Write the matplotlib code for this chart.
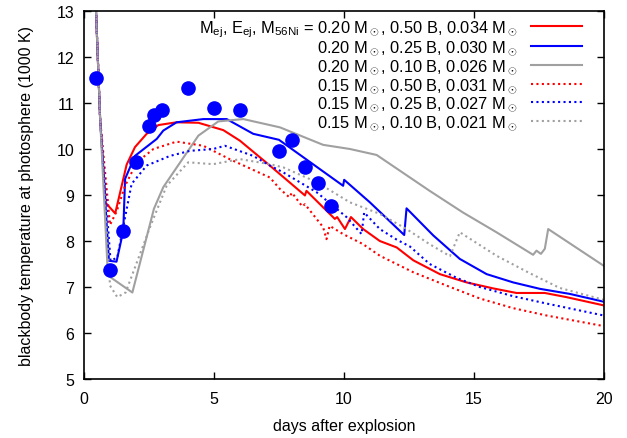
import matplotlib
matplotlib.use("Agg")
import matplotlib.pyplot as plt

plt.rcParams['font.family'] = ['Liberation Sans', 'DejaVu Sans']
plt.rcParams['mathtext.fontset'] = 'custom'
plt.rcParams['mathtext.rm'] = 'Liberation Sans'
plt.rcParams['mathtext.it'] = 'Liberation Sans:italic'

# observations
obs_t = [0.46, 1.0, 1.5, 2.0, 2.5, 2.7, 3.0, 4.0, 5.0, 6.0, 7.5, 8.0, 8.5, 9.0, 9.5]
obs_T = [11.55, 7.37, 8.22, 9.72, 10.5, 10.74, 10.85, 11.33, 10.9, 10.85, 9.95, 10.19, 9.6, 9.27, 8.75]

# models
red_t = [0.3, 0.62, 0.83, 1.2, 1.64, 1.96, 2.41, 2.86, 3.56, 4.4, 5.36, 6.0, 7.15, 8.5, 8.56, 9.65, 9.74,
         10.04, 10.27, 10.74, 11.38, 12.03, 12.67, 13.69, 14.72, 15.74, 16.64, 17.73, 18.56, 20.0]
red_T = [15.4, 10.65, 8.83, 8.6, 9.66, 10.04, 10.33, 10.52, 10.58, 10.57, 10.41, 10.18, 9.64, 8.99, 9.09, 8.48, 8.52,
         8.26, 8.52, 8.26, 8.0, 7.86, 7.58, 7.28, 7.10, 6.97, 6.87, 6.87, 6.78, 6.6]

blue_t = [0.3, 0.62, 0.96, 1.25, 1.51, 1.58, 1.96, 2.8, 3.05, 3.56, 4.59, 5.49, 6.51, 7.5, 9.97, 10.01, 11.0,
          12.32, 12.41, 13.44, 14.46, 15.49, 16.51, 17.54, 18.69, 20.0]
blue_T = [15.4, 10.65, 7.57, 7.55, 8.22, 9.35, 9.85, 10.22, 10.4, 10.58, 10.65, 10.65, 10.33, 10.2, 9.2, 9.33, 8.84,
          8.13, 8.71, 8.12, 7.61, 7.28, 7.10, 6.96, 6.85, 6.68]

gray_t = [0.3, 0.62, 0.92, 1.86, 2.69, 3.05, 4.4, 5.17, 6.13, 7.15, 7.54, 9.2, 10.23, 11.26, 13.3, 14.58, 15.87,
          17.28, 17.41, 17.58, 17.73, 17.86, 20.0]
gray_T = [15.4, 10.65, 7.25, 6.88, 8.7, 9.17, 10.29, 10.6, 10.65, 10.52, 10.47, 10.09, 10.0, 9.87, 9.09, 8.62, 8.19,
          7.70, 7.79, 7.72, 7.83, 8.26, 7.46]

redd_t = [0.3, 0.62, 1.0, 1.26, 1.58, 2.03, 2.67, 3.56, 4.59, 5.6, 7.15, 7.54, 7.9, 8.0, 8.4, 8.5, 9.2, 9.33, 9.45,
          9.97, 10.74, 11.38, 12.67, 13.95, 15.23, 16.51, 17.8, 20.0]
redd_T = [15.4, 10.65, 8.35, 8.65, 9.2, 9.71, 10.0, 10.16, 10.07, 9.78, 9.38, 9.13, 8.95, 9.05, 8.75, 8.8, 8.3, 8.04,
          8.33, 8.15, 7.93, 7.68, 7.32, 7.03, 6.75, 6.54, 6.38, 6.15]

blued_t = [0.3, 0.62, 1.02, 1.28, 1.54, 1.83, 2.41, 3.31, 4.08, 4.97, 5.42, 6.51, 7.15, 7.67, 8.95, 10.1, 10.68,
           10.78, 11.38, 12.03, 12.54, 13.3, 14.33, 15.23, 16.51, 17.8, 20.0]
blued_T = [15.4, 10.65, 7.57, 7.64, 8.4, 9.24, 9.64, 9.85, 9.96, 10.0, 10.07, 9.85, 9.64, 9.49, 9.06, 8.52, 8.15,
           8.62, 8.26, 8.03, 7.88, 7.5, 7.2, 7.0, 6.8, 6.64, 6.38]

grayd_t = [0.3, 0.62, 1.0, 1.28, 1.6, 2.56, 3.18, 4.01, 4.97, 6.0, 7.15, 7.67, 8.95, 10.23, 11.38, 12.41, 13.3,
           14.08, 14.46, 15.87, 17.15, 18.3, 20.0]
grayd_T = [15.4, 10.65, 7.03, 6.78, 6.88, 8.33, 9.2, 9.71, 9.67, 9.78, 9.67, 9.6, 9.28, 8.84, 8.59, 8.26, 7.93,
           7.67, 8.19, 7.68, 7.3, 6.98, 6.72]

labels = [
    r"M$_{\rm ej}$, E$_{\rm ej}$, M$_{\rm 56Ni}$ = 0.20 M$_\odot$, 0.50 B, 0.034 M$_\odot$",
    r"0.20 M$_\odot$, 0.25 B, 0.030 M$_\odot$",
    r"0.20 M$_\odot$, 0.10 B, 0.026 M$_\odot$",
    r"0.15 M$_\odot$, 0.50 B, 0.031 M$_\odot$",
    r"0.15 M$_\odot$, 0.25 B, 0.027 M$_\odot$",
    r"0.15 M$_\odot$, 0.10 B, 0.021 M$_\odot$",
]

RED, BLUE, GRAY = '#ff0000', '#0000ff', '#a0a0a0'
dot = (0, (1, 1.6))

fig = plt.figure(figsize=(6.27, 4.39), dpi=100)
ax = fig.add_axes([0.134, 0.1344, 0.829, 0.8383])

ax.plot(red_t, red_T, color=RED, lw=1.5, label=labels[0])
ax.plot(blue_t, blue_T, color=BLUE, lw=1.5, label=labels[1])
ax.plot(gray_t, gray_T, color=GRAY, lw=1.5, label=labels[2])
ax.plot(redd_t, redd_T, color=RED, lw=1.5, ls=dot, label=labels[3])
ax.plot(blued_t, blued_T, color=BLUE, lw=1.5, ls=dot, label=labels[4])
ax.plot(grayd_t, grayd_T, color=GRAY, lw=1.5, ls=dot, label=labels[5])
ax.plot(obs_t, obs_T, 'o', color=BLUE, ms=9.5, ls='none', zorder=5)

ax.set_xlim(0, 20)
ax.set_ylim(5, 13)
ax.set_xticks([0, 5, 10, 15, 20])
ax.set_yticks([5, 6, 7, 8, 9, 10, 11, 12, 13])
ax.tick_params(direction='in', top=True, right=True, length=5, width=1, labelsize=11.5)
ax.tick_params(axis='x', pad=9)
ax.tick_params(axis='y', pad=7)
for s in ax.spines.values():
    s.set_linewidth(1.2)
ax.set_xlabel("days after explosion", fontsize=11.5, labelpad=8)
ax.set_ylabel("blackbody temperature at photosphere (1000 K)", fontsize=11.5, labelpad=16)

leg = ax.legend(loc='upper right', bbox_to_anchor=(0.97, 0.998), frameon=False, markerfirst=False,
                fontsize=11.8, handlelength=3.1, handletextpad=0.8, labelspacing=0.0, borderaxespad=0.0)

fig.savefig("out.png", dpi=100)
